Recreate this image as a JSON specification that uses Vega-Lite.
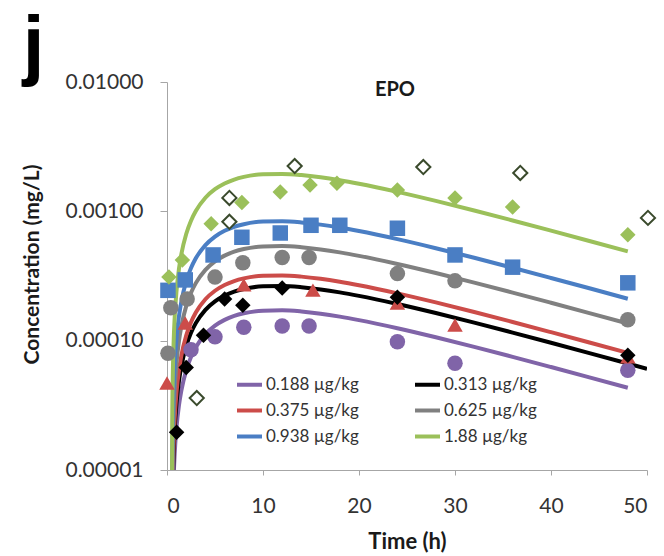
{
  "$schema": "https://vega.github.io/schema/vega-lite/v6.json",
  "width": 480,
  "height": 388,
  "autosize": {"type": "none"},
  "padding": {"left": 167, "top": 82, "right": 17, "bottom": 86},
  "background": "white",
  "config": {
    "font": "Lato",
    "view": {"stroke": null},
    "axis": {
      "domainColor": "#a6a6a6",
      "tickColor": "#a6a6a6",
      "grid": false,
      "labelFont": "Lato",
      "labelFontSize": 21,
      "labelColor": "#333333",
      "titleFont": "Lato",
      "titleFontWeight": "bold",
      "titleColor": "#1a1a1a"
    }
  },
  "datasets": {
    "fits": [
      {"s": "0.188 µg/kg", "t": 0.51, "c": 4.6e-7}, {"s": "0.188 µg/kg", "t": 0.55, "c": 2.28e-6}, {"s": "0.188 µg/kg", "t": 0.6, "c": 4.53e-6}, {"s": "0.188 µg/kg", "t": 0.7, "c": 8.97e-6}, {"s": "0.188 µg/kg", "t": 0.8, "c": 1.332e-5}, {"s": "0.188 µg/kg", "t": 1, "c": 2.174e-5}, {"s": "0.188 µg/kg", "t": 1.25, "c": 3.18e-5}, {"s": "0.188 µg/kg", "t": 1.5, "c": 4.133e-5}, {"s": "0.188 µg/kg", "t": 2, "c": 5.889e-5}, {"s": "0.188 µg/kg", "t": 2.5, "c": 7.465e-5}, {"s": "0.188 µg/kg", "t": 3, "c": 8.87e-5}, {"s": "0.188 µg/kg", "t": 4, "c": 1.1232e-4}, {"s": "0.188 µg/kg", "t": 5, "c": 1.3075e-4}, {"s": "0.188 µg/kg", "t": 6, "c": 1.4486e-4}, {"s": "0.188 µg/kg", "t": 7, "c": 1.5535e-4}, {"s": "0.188 µg/kg", "t": 8, "c": 1.6282e-4}, {"s": "0.188 µg/kg", "t": 10, "c": 1.7068e-4}, {"s": "0.188 µg/kg", "t": 12, "c": 1.7167e-4}, {"s": "0.188 µg/kg", "t": 14, "c": 1.6811e-4}, {"s": "0.188 µg/kg", "t": 16, "c": 1.6163e-4}, {"s": "0.188 µg/kg", "t": 18, "c": 1.5337e-4}, {"s": "0.188 µg/kg", "t": 20, "c": 1.4414e-4}, {"s": "0.188 µg/kg", "t": 24, "c": 1.248e-4}, {"s": "0.188 µg/kg", "t": 28, "c": 1.0624e-4}, {"s": "0.188 µg/kg", "t": 32, "c": 8.953e-5}, {"s": "0.188 µg/kg", "t": 36, "c": 7.497e-5}, {"s": "0.188 µg/kg", "t": 40, "c": 6.252e-5}, {"s": "0.188 µg/kg", "t": 44, "c": 5.203e-5}, {"s": "0.188 µg/kg", "t": 48, "c": 4.322e-5},
      {"s": "0.313 µg/kg", "t": 0.51, "c": 7.0e-7}, {"s": "0.313 µg/kg", "t": 0.55, "c": 3.51e-6}, {"s": "0.313 µg/kg", "t": 0.6, "c": 6.98e-6}, {"s": "0.313 µg/kg", "t": 0.7, "c": 1.382e-5}, {"s": "0.313 µg/kg", "t": 0.8, "c": 2.053e-5}, {"s": "0.313 µg/kg", "t": 1, "c": 3.35e-5}, {"s": "0.313 µg/kg", "t": 1.25, "c": 4.9e-5}, {"s": "0.313 µg/kg", "t": 1.5, "c": 6.368e-5}, {"s": "0.313 µg/kg", "t": 2, "c": 9.074e-5}, {"s": "0.313 µg/kg", "t": 2.5, "c": 1.1501e-4}, {"s": "0.313 µg/kg", "t": 3, "c": 1.3666e-4}, {"s": "0.313 µg/kg", "t": 4, "c": 1.7305e-4}, {"s": "0.313 µg/kg", "t": 5, "c": 2.0145e-4}, {"s": "0.313 µg/kg", "t": 6, "c": 2.2318e-4}, {"s": "0.313 µg/kg", "t": 7, "c": 2.3935e-4}, {"s": "0.313 µg/kg", "t": 8, "c": 2.5085e-4}, {"s": "0.313 µg/kg", "t": 10, "c": 2.6296e-4}, {"s": "0.313 µg/kg", "t": 12, "c": 2.645e-4}, {"s": "0.313 µg/kg", "t": 14, "c": 2.5901e-4}, {"s": "0.313 µg/kg", "t": 16, "c": 2.4902e-4}, {"s": "0.313 µg/kg", "t": 18, "c": 2.363e-4}, {"s": "0.313 µg/kg", "t": 20, "c": 2.2207e-4}, {"s": "0.313 µg/kg", "t": 24, "c": 1.9228e-4}, {"s": "0.313 µg/kg", "t": 28, "c": 1.6369e-4}, {"s": "0.313 µg/kg", "t": 32, "c": 1.3793e-4}, {"s": "0.313 µg/kg", "t": 36, "c": 1.1551e-4}, {"s": "0.313 µg/kg", "t": 40, "c": 9.633e-5}, {"s": "0.313 µg/kg", "t": 44, "c": 8.016e-5}, {"s": "0.313 µg/kg", "t": 48, "c": 6.659e-5}, {"s": "0.313 µg/kg", "t": 50, "c": 6.066e-5},
      {"s": "0.375 µg/kg", "t": 0.51, "c": 8.5e-7}, {"s": "0.375 µg/kg", "t": 0.55, "c": 4.24e-6}, {"s": "0.375 µg/kg", "t": 0.6, "c": 8.43e-6}, {"s": "0.375 µg/kg", "t": 0.7, "c": 1.669e-5}, {"s": "0.375 µg/kg", "t": 0.8, "c": 2.479e-5}, {"s": "0.375 µg/kg", "t": 1, "c": 4.045e-5}, {"s": "0.375 µg/kg", "t": 1.25, "c": 5.917e-5}, {"s": "0.375 µg/kg", "t": 1.5, "c": 7.69e-5}, {"s": "0.375 µg/kg", "t": 2, "c": 1.0957e-4}, {"s": "0.375 µg/kg", "t": 2.5, "c": 1.3888e-4}, {"s": "0.375 µg/kg", "t": 3, "c": 1.6502e-4}, {"s": "0.375 µg/kg", "t": 4, "c": 2.0896e-4}, {"s": "0.375 µg/kg", "t": 5, "c": 2.4326e-4}, {"s": "0.375 µg/kg", "t": 6, "c": 2.695e-4}, {"s": "0.375 µg/kg", "t": 7, "c": 2.8902e-4}, {"s": "0.375 µg/kg", "t": 8, "c": 3.0291e-4}, {"s": "0.375 µg/kg", "t": 10, "c": 3.1754e-4}, {"s": "0.375 µg/kg", "t": 12, "c": 3.1939e-4}, {"s": "0.375 µg/kg", "t": 14, "c": 3.1277e-4}, {"s": "0.375 µg/kg", "t": 16, "c": 3.007e-4}, {"s": "0.375 µg/kg", "t": 18, "c": 2.8534e-4}, {"s": "0.375 µg/kg", "t": 20, "c": 2.6816e-4}, {"s": "0.375 µg/kg", "t": 24, "c": 2.3219e-4}, {"s": "0.375 µg/kg", "t": 28, "c": 1.9766e-4}, {"s": "0.375 µg/kg", "t": 32, "c": 1.6656e-4}, {"s": "0.375 µg/kg", "t": 36, "c": 1.3949e-4}, {"s": "0.375 µg/kg", "t": 40, "c": 1.1632e-4}, {"s": "0.375 µg/kg", "t": 44, "c": 9.68e-5}, {"s": "0.375 µg/kg", "t": 48, "c": 8.042e-5},
      {"s": "0.625 µg/kg", "t": 0.51, "c": 1.44e-6}, {"s": "0.625 µg/kg", "t": 0.55, "c": 7.16e-6}, {"s": "0.625 µg/kg", "t": 0.6, "c": 1.423e-5}, {"s": "0.625 µg/kg", "t": 0.7, "c": 2.817e-5}, {"s": "0.625 µg/kg", "t": 0.8, "c": 4.183e-5}, {"s": "0.625 µg/kg", "t": 1, "c": 6.826e-5}, {"s": "0.625 µg/kg", "t": 1.25, "c": 9.985e-5}, {"s": "0.625 µg/kg", "t": 1.5, "c": 1.2976e-4}, {"s": "0.625 µg/kg", "t": 2, "c": 1.849e-4}, {"s": "0.625 µg/kg", "t": 2.5, "c": 2.3436e-4}, {"s": "0.625 µg/kg", "t": 3, "c": 2.7848e-4}, {"s": "0.625 µg/kg", "t": 4, "c": 3.5262e-4}, {"s": "0.625 µg/kg", "t": 5, "c": 4.1051e-4}, {"s": "0.625 µg/kg", "t": 6, "c": 4.5479e-4}, {"s": "0.625 µg/kg", "t": 7, "c": 4.8773e-4}, {"s": "0.625 µg/kg", "t": 8, "c": 5.1116e-4}, {"s": "0.625 µg/kg", "t": 10, "c": 5.3584e-4}, {"s": "0.625 µg/kg", "t": 12, "c": 5.3897e-4}, {"s": "0.625 µg/kg", "t": 14, "c": 5.278e-4}, {"s": "0.625 µg/kg", "t": 16, "c": 5.0744e-4}, {"s": "0.625 µg/kg", "t": 18, "c": 4.8152e-4}, {"s": "0.625 µg/kg", "t": 20, "c": 4.5252e-4}, {"s": "0.625 µg/kg", "t": 24, "c": 3.9182e-4}, {"s": "0.625 µg/kg", "t": 28, "c": 3.3356e-4}, {"s": "0.625 µg/kg", "t": 32, "c": 2.8107e-4}, {"s": "0.625 µg/kg", "t": 36, "c": 2.3539e-4}, {"s": "0.625 µg/kg", "t": 40, "c": 1.9629e-4}, {"s": "0.625 µg/kg", "t": 44, "c": 1.6335e-4}, {"s": "0.625 µg/kg", "t": 48, "c": 1.357e-4},
      {"s": "0.938 µg/kg", "t": 0.51, "c": 2.23e-6}, {"s": "0.938 µg/kg", "t": 0.55, "c": 1.113e-5}, {"s": "0.938 µg/kg", "t": 0.6, "c": 2.213e-5}, {"s": "0.938 µg/kg", "t": 0.7, "c": 4.381e-5}, {"s": "0.938 µg/kg", "t": 0.8, "c": 6.507e-5}, {"s": "0.938 µg/kg", "t": 1, "c": 1.0618e-4}, {"s": "0.938 µg/kg", "t": 1.25, "c": 1.5532e-4}, {"s": "0.938 µg/kg", "t": 1.5, "c": 2.0185e-4}, {"s": "0.938 µg/kg", "t": 2, "c": 2.8762e-4}, {"s": "0.938 µg/kg", "t": 2.5, "c": 3.6456e-4}, {"s": "0.938 µg/kg", "t": 3, "c": 4.3319e-4}, {"s": "0.938 µg/kg", "t": 4, "c": 5.4852e-4}, {"s": "0.938 µg/kg", "t": 5, "c": 6.3857e-4}, {"s": "0.938 µg/kg", "t": 6, "c": 7.0745e-4}, {"s": "0.938 µg/kg", "t": 7, "c": 7.5869e-4}, {"s": "0.938 µg/kg", "t": 8, "c": 7.9514e-4}, {"s": "0.938 µg/kg", "t": 10, "c": 8.3353e-4}, {"s": "0.938 µg/kg", "t": 12, "c": 8.384e-4}, {"s": "0.938 µg/kg", "t": 14, "c": 8.2102e-4}, {"s": "0.938 µg/kg", "t": 16, "c": 7.8935e-4}, {"s": "0.938 µg/kg", "t": 18, "c": 7.4903e-4}, {"s": "0.938 µg/kg", "t": 20, "c": 7.0392e-4}, {"s": "0.938 µg/kg", "t": 24, "c": 6.095e-4}, {"s": "0.938 µg/kg", "t": 28, "c": 5.1887e-4}, {"s": "0.938 µg/kg", "t": 32, "c": 4.3722e-4}, {"s": "0.938 µg/kg", "t": 36, "c": 3.6616e-4}, {"s": "0.938 µg/kg", "t": 40, "c": 3.0534e-4}, {"s": "0.938 µg/kg", "t": 44, "c": 2.541e-4}, {"s": "0.938 µg/kg", "t": 48, "c": 2.1109e-4},
      {"s": "1.88 µg/kg", "t": 0.51, "c": 5.19e-6}, {"s": "1.88 µg/kg", "t": 0.55, "c": 2.58e-5}, {"s": "1.88 µg/kg", "t": 0.6, "c": 5.14e-5}, {"s": "1.88 µg/kg", "t": 0.7, "c": 1.017e-4}, {"s": "1.88 µg/kg", "t": 0.8, "c": 1.511e-4}, {"s": "1.88 µg/kg", "t": 1, "c": 2.465e-4}, {"s": "1.88 µg/kg", "t": 1.25, "c": 3.606e-4}, {"s": "1.88 µg/kg", "t": 1.5, "c": 4.686e-4}, {"s": "1.88 µg/kg", "t": 2, "c": 6.677e-4}, {"s": "1.88 µg/kg", "t": 2.5, "c": 8.463e-4}, {"s": "1.88 µg/kg", "t": 3, "c": 1.0056e-3}, {"s": "1.88 µg/kg", "t": 4, "c": 1.2734e-3}, {"s": "1.88 µg/kg", "t": 5, "c": 1.4824e-3}, {"s": "1.88 µg/kg", "t": 6, "c": 1.6423e-3}, {"s": "1.88 µg/kg", "t": 7, "c": 1.7612e-3}, {"s": "1.88 µg/kg", "t": 8, "c": 1.8459e-3}, {"s": "1.88 µg/kg", "t": 10, "c": 1.935e-3}, {"s": "1.88 µg/kg", "t": 12, "c": 1.9463e-3}, {"s": "1.88 µg/kg", "t": 14, "c": 1.9059e-3}, {"s": "1.88 µg/kg", "t": 16, "c": 1.8324e-3}, {"s": "1.88 µg/kg", "t": 18, "c": 1.7388e-3}, {"s": "1.88 µg/kg", "t": 20, "c": 1.6341e-3}, {"s": "1.88 µg/kg", "t": 24, "c": 1.4149e-3}, {"s": "1.88 µg/kg", "t": 28, "c": 1.2045e-3}, {"s": "1.88 µg/kg", "t": 32, "c": 1.015e-3}, {"s": "1.88 µg/kg", "t": 36, "c": 8.5e-4}, {"s": "1.88 µg/kg", "t": 40, "c": 7.088e-4}, {"s": "1.88 µg/kg", "t": 44, "c": 5.899e-4}, {"s": "1.88 µg/kg", "t": 48, "c": 4.9e-4}
    ],
    "obs": [
      {"s": "0.188 µg/kg", "t": 2.5, "c": 8.5e-5}, {"s": "0.188 µg/kg", "t": 5, "c": 1.07e-4}, {"s": "0.188 µg/kg", "t": 8, "c": 1.27e-4}, {"s": "0.188 µg/kg", "t": 12, "c": 1.3e-4}, {"s": "0.188 µg/kg", "t": 14.8, "c": 1.3e-4}, {"s": "0.188 µg/kg", "t": 24, "c": 9.8e-5}, {"s": "0.188 µg/kg", "t": 30, "c": 6.7e-5}, {"s": "0.188 µg/kg", "t": 48, "c": 5.9e-5},
      {"s": "0.375 µg/kg", "t": 0, "c": 4.7e-5}, {"s": "0.375 µg/kg", "t": 1.9, "c": 1.37e-4}, {"s": "0.375 µg/kg", "t": 8, "c": 2.7e-4}, {"s": "0.375 µg/kg", "t": 15.2, "c": 2.46e-4}, {"s": "0.375 µg/kg", "t": 24, "c": 1.95e-4}, {"s": "0.375 µg/kg", "t": 30, "c": 1.32e-4}, {"s": "0.375 µg/kg", "t": 48, "c": 7.5e-5},
      {"s": "0.625 µg/kg", "t": 0.1, "c": 8.0e-5}, {"s": "0.625 µg/kg", "t": 0.4, "c": 1.8e-4}, {"s": "0.625 µg/kg", "t": 2.1, "c": 2.1e-4}, {"s": "0.625 µg/kg", "t": 5, "c": 3.1e-4}, {"s": "0.625 µg/kg", "t": 7.9, "c": 4.0e-4}, {"s": "0.625 µg/kg", "t": 12, "c": 4.4e-4}, {"s": "0.625 µg/kg", "t": 14.8, "c": 4.4e-4}, {"s": "0.625 µg/kg", "t": 24, "c": 3.3e-4}, {"s": "0.625 µg/kg", "t": 30, "c": 2.9e-4}, {"s": "0.625 µg/kg", "t": 48, "c": 1.45e-4},
      {"s": "0.938 µg/kg", "t": 0.1, "c": 2.45e-4}, {"s": "0.938 µg/kg", "t": 1.9, "c": 2.95e-4}, {"s": "0.938 µg/kg", "t": 4.8, "c": 4.6e-4}, {"s": "0.938 µg/kg", "t": 7.8, "c": 6.3e-4}, {"s": "0.938 µg/kg", "t": 11.8, "c": 6.8e-4}, {"s": "0.938 µg/kg", "t": 15, "c": 7.8e-4}, {"s": "0.938 µg/kg", "t": 18, "c": 7.8e-4}, {"s": "0.938 µg/kg", "t": 24, "c": 7.4e-4}, {"s": "0.938 µg/kg", "t": 30, "c": 4.6e-4}, {"s": "0.938 µg/kg", "t": 36, "c": 3.7e-4}, {"s": "0.938 µg/kg", "t": 48, "c": 2.8e-4},
      {"s": "1.88 µg/kg", "t": 0.2, "c": 3.1e-4}, {"s": "1.88 µg/kg", "t": 1.6, "c": 4.2e-4}, {"s": "1.88 µg/kg", "t": 4.6, "c": 8.0e-4}, {"s": "1.88 µg/kg", "t": 7.8, "c": 1.17e-3}, {"s": "1.88 µg/kg", "t": 11.8, "c": 1.41e-3}, {"s": "1.88 µg/kg", "t": 14.9, "c": 1.6e-3}, {"s": "1.88 µg/kg", "t": 17.7, "c": 1.65e-3}, {"s": "1.88 µg/kg", "t": 24, "c": 1.46e-3}, {"s": "1.88 µg/kg", "t": 30, "c": 1.27e-3}, {"s": "1.88 µg/kg", "t": 36, "c": 1.08e-3}, {"s": "1.88 µg/kg", "t": 48, "c": 6.6e-4},
      {"s": "0.313 µg/kg", "t": 1, "c": 1.96e-5}, {"s": "0.313 µg/kg", "t": 2, "c": 6.2e-5}, {"s": "0.313 µg/kg", "t": 3.8, "c": 1.1e-4}, {"s": "0.313 µg/kg", "t": 6, "c": 2.1e-4}, {"s": "0.313 µg/kg", "t": 7.9, "c": 1.88e-4}, {"s": "0.313 µg/kg", "t": 12, "c": 2.55e-4}, {"s": "0.313 µg/kg", "t": 24, "c": 2.17e-4}, {"s": "0.313 µg/kg", "t": 48, "c": 7.7e-5}
    ],
    "open": [
      {"t": 3.1, "c": 3.6e-5}, {"t": 6.5, "c": 8.3e-4}, {"t": 6.5, "c": 1.27e-3}, {"t": 13.3, "c": 2.24e-3}, {"t": 26.7, "c": 2.2e-3}, {"t": 36.8, "c": 1.98e-3}, {"t": 50.1, "c": 8.9e-4}
    ]
  },
  "layer": [
    {
      "data": {"name": "fits"},
      "mark": {"type": "line", "clip": true, "strokeWidth": 4, "interpolate": "monotone"},
      "encoding": {
        "x": {
          "field": "t", "type": "quantitative",
          "scale": {"domain": [0, 50], "nice": false},
          "axis": {"values": [0, 10, 20, 30, 40, 50], "format": "d", "title": "Time (h)", "titleFontSize": 22, "tickSize": 5, "labelPadding": 20, "titlePadding": 15}
        },
        "y": {
          "field": "c", "type": "quantitative",
          "scale": {"type": "log", "domain": [0.00001, 0.01], "nice": false},
          "axis": {"values": [0.00001, 0.0001, 0.001, 0.01], "format": ".5f", "title": "Concentration (mg/L)", "titleFontSize": 21, "titleY": 182, "tickSize": 7, "labelPadding": 17, "titlePadding": 22}
        },
        "color": {
          "field": "s", "type": "nominal",
          "scale": {
            "domain": ["0.188 µg/kg", "0.313 µg/kg", "0.375 µg/kg", "0.625 µg/kg", "0.938 µg/kg", "1.88 µg/kg"],
            "range": ["#8064a8", "#000000", "#cc4c49", "#808080", "#4a7ec4", "#9bc05a"]
          },
          "legend": {
            "title": null,
            "orient": "none",
            "legendX": 68,
            "legendY": 288,
            "direction": "horizontal",
            "columns": 2,
            "symbolType": "stroke",
            "symbolSize": 625,
            "symbolStrokeWidth": 4,
            "labelFont": "Lato",
            "labelFontSize": 17,
            "labelColor": "#333333",
            "labelOffset": 2,
            "columnPadding": 48,
            "rowPadding": 3
          }
        },
        "detail": {"field": "s"}
      }
    },
    {
      "data": {"name": "obs"},
      "mark": {"type": "point", "filled": true, "opacity": 1, "size": 240},
      "encoding": {
        "x": {"field": "t", "type": "quantitative"},
        "y": {"field": "c", "type": "quantitative"},
        "color": {
          "field": "s", "type": "nominal",
          "scale": {
            "domain": ["0.188 µg/kg", "0.313 µg/kg", "0.375 µg/kg", "0.625 µg/kg", "0.938 µg/kg", "1.88 µg/kg"],
            "range": ["#8064a8", "#000000", "#cc4c49", "#808080", "#4a7ec4", "#9bc05a"]
          },
          "legend": null
        },
        "shape": {
          "field": "s", "type": "nominal",
          "scale": {
            "domain": ["0.188 µg/kg", "0.313 µg/kg", "0.375 µg/kg", "0.625 µg/kg", "0.938 µg/kg", "1.88 µg/kg"],
            "range": ["circle", "diamond", "triangle-up", "circle", "square", "diamond"]
          },
          "legend": null
        }
      }
    },
    {
      "data": {"name": "open"},
      "mark": {"type": "point", "shape": "diamond", "filled": false, "fill": "white", "fillOpacity": 1, "stroke": "#3a4a2c", "strokeWidth": 2, "size": 200, "opacity": 1},
      "encoding": {
        "x": {"field": "t", "type": "quantitative"},
        "y": {"field": "c", "type": "quantitative"}
      }
    },
    {
      "data": {"values": [{}]},
      "mark": {"type": "text", "clip": false, "font": "Lato", "fontSize": 20, "fontWeight": "bold", "color": "#1a1a1a", "align": "center", "baseline": "middle"},
      "encoding": {
        "x": {"datum": 23.75, "type": "quantitative"},
        "y": {"datum": 0.008671, "type": "quantitative"},
        "text": {"value": "EPO"}
      }
    },
    {
      "data": {"values": [{}]},
      "mark": {"type": "text", "clip": false, "font": "Liberation Sans", "fontSize": 78, "fontWeight": "bold", "color": "#000000", "align": "center", "baseline": "alphabetic"},
      "encoding": {
        "x": {"datum": -13.9, "type": "quantitative"},
        "y": {"datum": 0.012058, "type": "quantitative"},
        "text": {"value": "j"}
      }
    }
  ],
  "resolve": {"scale": {"color": "independent", "shape": "independent"}, "legend": {"color": "independent"}}
}
